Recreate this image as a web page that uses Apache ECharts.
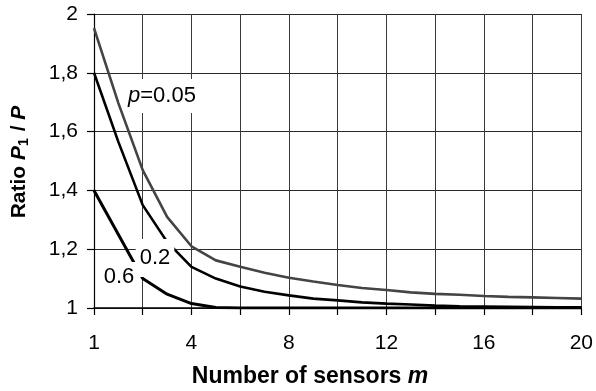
<!DOCTYPE html>
<html>
<head>
<meta charset="utf-8">
<script src="https://cdn.jsdelivr.net/npm/echarts@6/dist/echarts.min.js"></script>
<style>
html,body{margin:0;padding:0;background:#fff;}
#chart{width:596px;height:391px;}
</style>
</head>
<body>
<div id="chart"></div>
<script>
// Number of sensors m (category positions)
var categories = ['1','1.5','2','3','4','5','6','7','8','9','10','11','12','13','14','15','16','17','18','19','20'];
var shownLabels = ['1','4','8','12','16','20'];
var yTicks = [1, 1.2, 1.4, 1.6, 1.8, 2];
// Ratio P1/P for p = 0.05, 0.2, 0.6
var p005 = [1.952, 1.697, 1.469, 1.31, 1.21, 1.162, 1.14, 1.12, 1.103, 1.09, 1.078, 1.068, 1.061, 1.053, 1.048, 1.045, 1.041, 1.038, 1.036, 1.034, 1.032];
var p02  = [1.80, 1.565, 1.35, 1.225, 1.14, 1.10, 1.073, 1.055, 1.043, 1.032, 1.026, 1.019, 1.015, 1.012, 1.008, 1.006, 1.005, 1.004, 1.003, 1.002, 1.002];
var p06  = [1.40, 1.25, 1.10, 1.047, 1.015, 1.002, 1.0, 1.0, 1.0, 1.0, 1.0, 1.0, 1.0, 1.0, 1.0, 1.0, 1.0, 1.0, 1.0, 1.0, 1.0];

var FONT = '"Liberation Sans", Arial, sans-serif';
var chart = echarts.init(document.getElementById('chart'), null, {renderer:'canvas'});
function evenIdx(i){ return i % 2 === 0; }
chart.setOption({
  animation: false,
  backgroundColor: '#fff',
  grid: {left: 94, right: 12, top: 14, bottom: 83, containLabel: false},
  xAxis: {
    type: 'category', data: categories, boundaryGap: false,
    axisLine: {show: true, lineStyle: {color: '#000', width: 1.5}},
    axisTick: {show: true, inside: false, length: 7, interval: evenIdx, lineStyle: {color: '#000', width: 1.2}},
    axisLabel: {
      interval: 0, margin: 25, color: '#000', fontFamily: FONT, fontSize: 21,
      formatter: function(v){ return shownLabels.indexOf(v) >= 0 ? v : ''; }
    },
    splitLine: {show: true, interval: evenIdx, lineStyle: {color: '#3a3a3a', width: 1}}
  },
  yAxis: {
    type: 'value', min: 1, max: 2, interval: 0.2,
    axisLine: {show: true, lineStyle: {color: '#000', width: 1.2}},
    axisTick: {show: true, length: 7, lineStyle: {color: '#000', width: 1.2}},
    axisLabel: {
      margin: 16, color: '#000', fontFamily: FONT, fontSize: 21,
      formatter: function(v){ return String(+v.toFixed(1)).replace('.', ','); }
    },
    splitLine: {show: true, lineStyle: {color: '#2a2a2a', width: 1}}
  },
  series: [
    {name: 'p=0.05', type: 'line', data: p005, symbol: 'none', z: 3,
     lineStyle: {color: '#444', width: 2.6}},
    {name: 'p=0.2', type: 'line', data: p02, symbol: 'none', z: 4,
     lineStyle: {color: '#000', width: 2.6}},
    {name: 'p=0.6', type: 'line', data: p06, symbol: 'none', z: 5,
     lineStyle: {color: '#000', width: 3}}
  ],
  graphic: [
    {type: 'text', z: 100, x: 310, y: 377,
     style: {text: '{b|Number of sensors }{bi|m}', align: 'center', verticalAlign: 'middle',
       rich: {b: {font: 'bold 23px ' + FONT, fill: '#000'}, bi: {font: 'italic bold 23px ' + FONT, fill: '#000'}}}},
    {type: 'text', z: 100, x: 19, y: 162, rotation: Math.PI / 2,
     style: {text: '{b|Ratio }{bi|P}{s|1}{b| / }{bi|P}', align: 'center', verticalAlign: 'middle',
       rich: {
         b: {font: 'bold 21px ' + FONT, fill: '#000', lineHeight: 25, verticalAlign: 'middle'},
         bi: {font: 'italic bold 21px ' + FONT, fill: '#000', lineHeight: 25, verticalAlign: 'middle'},
         s: {font: 'bold 14px ' + FONT, fill: '#000', lineHeight: 25, verticalAlign: 'bottom', padding: [0, 1, 0, 0]}
       }}},
    {type: 'text', z: 100, x: 126, y: 96,
     style: {text: '{i|p}{n|=0.05}', align: 'left', verticalAlign: 'middle',
       backgroundColor: '#fff', padding: [6, 2, 6, 2],
       rich: {i: {font: 'italic 22px ' + FONT, fill: '#000'}, n: {font: '22px ' + FONT, fill: '#000'}}}},
    {type: 'text', z: 100, x: 155, y: 258,
     style: {text: '0.2', font: '22px ' + FONT, fill: '#000', align: 'center', verticalAlign: 'middle',
       backgroundColor: '#fff', padding: [8, 4, 8, 4]}},
    {type: 'text', z: 101, x: 119, y: 277,
     style: {text: '0.6', font: '22px ' + FONT, fill: '#000', align: 'center', verticalAlign: 'middle',
       backgroundColor: '#fff', padding: [4, 2, 4, 2]}}
  ]
});
</script>
</body>
</html>
